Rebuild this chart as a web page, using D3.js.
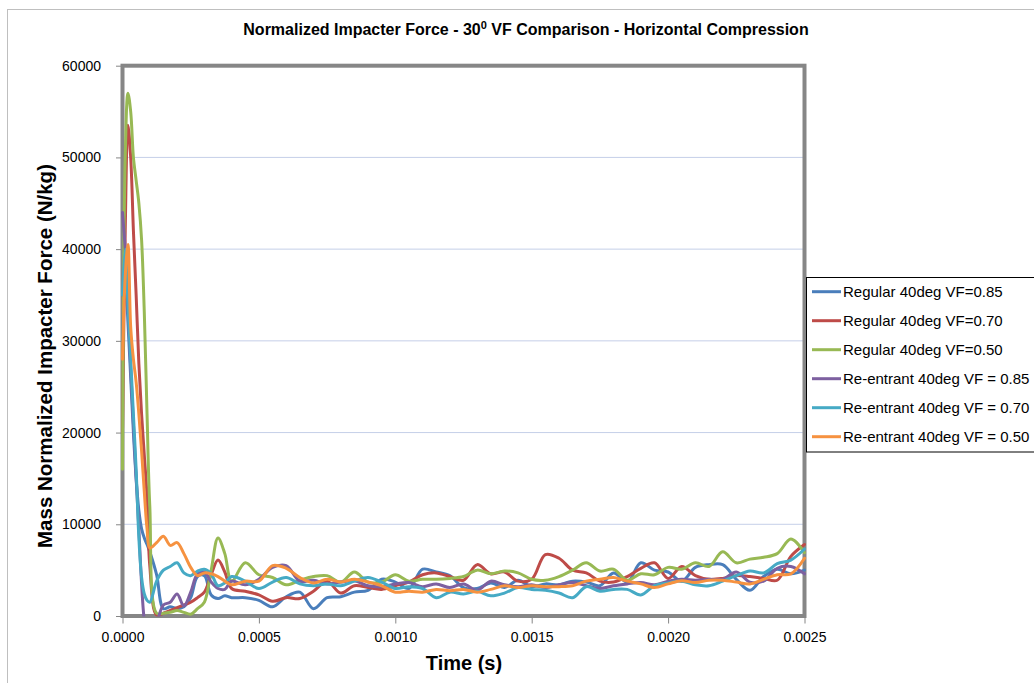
<!DOCTYPE html>
<html>
<head>
<meta charset="utf-8">
<script src="https://cdn.jsdelivr.net/npm/d3@7"></script>
<style>
  body { margin: 0; background: #fff; }
  text { font-family: "Liberation Sans", Arial, sans-serif; fill: #000; }
</style>
</head>
<body>
<svg id="chart" width="1034" height="683"></svg>
<script>
// Время (с): мелкий шаг в начале удара, крупнее дальше
const times = [
  0, 0.00001, 0.00002, 0.00003, 0.00004, 0.00005, 0.00006, 0.00007, 0.00008, 0.00009, 0.0001,
  0.000125, 0.00015, 0.000175, 0.0002, 0.000225, 0.00025, 0.000275, 0.0003, 0.000325, 0.00035, 0.000375, 0.0004,
  0.00045, 0.0005, 0.00055, 0.0006, 0.00065, 0.0007, 0.00075, 0.0008, 0.00085, 0.0009, 0.00095, 0.001,
  0.00105, 0.0011, 0.00115, 0.0012, 0.00125, 0.0013, 0.00135, 0.0014, 0.00145, 0.0015,
  0.00155, 0.0016, 0.00165, 0.0017, 0.00175, 0.0018, 0.00185, 0.0019, 0.00195, 0.002,
  0.00205, 0.0021, 0.00215, 0.0022, 0.00225, 0.0023, 0.00235, 0.0024, 0.00245, 0.0025
];

const regular085 = [
  30000, 37000, 32000, 26000, 20000, 15000, 11500, 9500, 8500, 7800, 7000,
  4500, 800, 1000, 800, 1000, 2000, 4300, 4400, 2300, 1900, 2200, 2000,
  2000, 1700, 1000, 2100, 2600, 800, 2000, 2100, 2600, 2800, 4000, 3700,
  3000, 5100, 4800, 4400, 3100, 3000, 3600, 3100, 3900, 3200,
  3500, 3400, 3800, 3700, 3300, 4700, 3700, 5800, 5000, 4800,
  3800, 5300, 5600, 5600, 4000, 2800, 4300, 5100, 4600, 5000
];

const regular070 = [
  20000, 42000, 53500, 50000, 42000, 35000, 27500, 22000, 17500, 13000, 5500,
  100, 300, 600, 900, 1200, 1500, 2000, 2600, 4500, 6100, 4800, 3000,
  2700, 2300, 1600, 2000, 1900, 2700, 3800, 2500, 3300, 3100, 2900, 3300,
  3700, 4500, 4700, 4300, 3900, 5600, 4600, 4800, 3800, 4000,
  6700, 6300, 5000, 4700, 3800, 3700, 4300, 5200, 5800, 4100,
  5400, 4400, 4000, 4100, 4400, 4300, 4100, 3900, 6500, 7800
];

const regular050 = [
  16000, 50000, 57000, 55000, 50000, 47500, 45000, 41000, 33000, 22000, 12000,
  300, 300, 400, 600, 400, 200, 800, 1500, 5000, 8500, 6800, 3800,
  5800, 4500, 4200, 3400, 3900, 4300, 4400, 3700, 4800, 3700, 3700, 4500,
  3800, 4000, 4000, 4100, 4300, 5000, 4600, 4900, 4700, 4000,
  3900, 4300, 5000, 5800, 4900, 5100, 3900, 4600, 4500, 5300,
  5100, 5800, 5400, 7000, 5800, 6200, 6400, 6800, 8400, 6900
];

const reentrant085 = [
  44000, 40000, 34000, 27000, 21000, 15000, 9500, 3500, -500, -2000, -2500,
  -800, 1200, 1500, 2400, 1100, 2600, 4600, 4800, 3700, 3000, 2900, 3800,
  3400, 4000, 5300, 5500, 3800, 3900, 3500, 3700, 3850, 3300, 3200, 3500,
  3650, 3200, 3500, 3100, 3500, 2800, 3800, 3400, 3200, 3400,
  3100, 3400, 3650, 3300, 3000, 3300, 3500, 3650, 3400, 3800,
  4000, 3900, 4000, 4000, 4800, 3700, 3800, 5200, 5400, 4600
];

const reentrant070 = [
  35000, 40000, 34000, 28000, 22000, 16000, 8500, 4200, 2400, 1700, 1500,
  3800, 5000, 5400, 5800, 4700, 4400, 4900, 5100, 4600, 3300, 3600, 4300,
  3800, 3000, 3700, 4200, 3500, 3300, 3500, 3300, 3800, 4200, 3700, 3000,
  3200, 3000, 2000, 2600, 2400, 2700, 2200, 2500, 3100, 2900,
  2800, 2500, 2000, 3200, 2700, 2900, 2900, 2300, 3300, 3600,
  3800, 3400, 3300, 3800, 4400, 4900, 4700, 5700, 6100, 7300
];

const reentrant050 = [
  28000, 37000, 40500, 31500, 28000, 25500, 22000, 18000, 13500, 9500, 7400,
  8000, 8700, 7700, 8000, 6800, 5300, 4400, 4700, 4600, 4300, 3800, 3400,
  3800, 3800, 5500, 5200, 4200, 3600, 4000, 3700, 4000, 3700, 3300, 2600,
  2700, 2600, 2900, 2750, 2900, 2600, 2900, 3300, 3100, 3300,
  3200, 3200, 3300, 3800, 4000, 4200, 3800, 3500, 3100, 3500,
  3850, 3650, 3900, 3900, 3700, 3500, 4000, 4500, 4600, 6300
];

const seriesNames = [
  "Regular 40deg VF=0.85",
  "Regular 40deg VF=0.70",
  "Regular 40deg VF=0.50",
  "Re-entrant 40deg VF = 0.85",
  "Re-entrant 40deg VF = 0.70",
  "Re-entrant 40deg VF = 0.50"
];
const seriesValues = [regular085, regular070, regular050, reentrant085, reentrant070, reentrant050];
const seriesColors = ["#4A7EBB", "#BE4B48", "#98B954", "#7D60A0", "#46AAC5", "#F69240"];

const xTicks = [0, 0.0005, 0.001, 0.0015, 0.002, 0.0025];
const yTicks = [0, 10000, 20000, 30000, 40000, 50000, 60000];

const svg = d3.select("#chart");

// внешняя рамка диаграммы (уходит за край картинки)
svg.append("rect")
    .attr("x", 7.5).attr("y", 9.5)
    .attr("width", 1100).attr("height", 720)
    .attr("fill", "#fff")
    .attr("stroke", "#bfbfbf");

const plotLeft = 122.5, plotRight = 804.5, plotTop = 65.7, plotBottom = 616;

const xScale = d3.scaleLinear().domain([0, 0.0025]).range([plotLeft, plotRight]);
const yScale = d3.scaleLinear().domain([0, 60000]).range([plotBottom, plotTop]);

// сетка
svg.append("g")
    .selectAll("line")
    .data(yTicks.filter(d => d > 0 && d < 60000))
    .enter()
    .append("line")
    .attr("x1", plotLeft).attr("x2", plotRight)
    .attr("y1", d => yScale(d)).attr("y2", d => yScale(d))
    .attr("stroke", "#c5cfe8")
    .attr("stroke-width", 1);

// оси
const yAxis = d3.axisLeft(yScale).tickValues(yTicks).tickFormat(d3.format("d"))
    .tickSize(5).tickPadding(15);
const gy = svg.append("g")
    .attr("transform", "translate(" + (plotLeft - 1.5) + ",0)")
    .call(yAxis);

const xAxis = d3.axisBottom(xScale).tickValues(xTicks).tickFormat(d3.format(".4f"))
    .tickSize(6).tickPadding(9);
const gx = svg.append("g")
    .attr("transform", "translate(0," + (plotBottom + 1.5) + ")")
    .call(xAxis);

[gx, gy].forEach(g => {
    g.select(".domain").remove();
    g.selectAll(".tick line").attr("stroke", "#868686");
    g.selectAll(".tick text").style("font-size", "14px").attr("fill", "#000");
});

// рамка области построения
svg.append("rect")
    .attr("x", plotLeft).attr("y", plotTop)
    .attr("width", plotRight - plotLeft).attr("height", plotBottom - plotTop)
    .attr("fill", "none")
    .attr("stroke", "#868686")
    .attr("stroke-width", 4);

// линии
svg.append("clipPath").attr("id", "plot-clip")
    .append("rect")
    .attr("x", plotLeft - 2).attr("y", plotTop - 2)
    .attr("width", plotRight - plotLeft + 4).attr("height", plotBottom - plotTop + 2.5);

const line = d3.line()
    .x(d => xScale(d[0]))
    .y(d => yScale(d[1]))
    .curve(d3.curveCatmullRom.alpha(0.5));

svg.append("g")
    .attr("clip-path", "url(#plot-clip)")
    .selectAll("path")
    .data(seriesValues)
    .enter()
    .append("path")
    .attr("d", vals => line(vals.map((v, i) => [times[i], v])))
    .attr("fill", "none")
    .attr("stroke", (d, i) => seriesColors[i])
    .attr("stroke-width", 3)
    .attr("stroke-linejoin", "round")
    .attr("stroke-linecap", "round");

// заголовок
const title = svg.append("text")
    .attr("x", 526).attr("y", 35)
    .attr("text-anchor", "middle")
    .style("font-size", "16px")
    .style("font-weight", "bold");
title.append("tspan").text("Normalized Impacter Force - 30");
title.append("tspan").attr("dy", -6).style("font-size", "11px").text("0");
title.append("tspan").attr("dy", 6).text(" VF Comparison - Horizontal Compression");

// подписи осей
svg.append("text")
    .attr("x", 464).attr("y", 670)
    .attr("text-anchor", "middle")
    .style("font-size", "20px")
    .style("font-weight", "bold")
    .text("Time (s)");

svg.append("text")
    .attr("transform", "translate(52,356) rotate(-90)")
    .attr("text-anchor", "middle")
    .style("font-size", "20.5px")
    .style("font-weight", "bold")
    .text("Mass Normalized Impacter Force (N/kg)");

// легенда
const legend = svg.append("g");
legend.append("rect")
    .attr("x", 806.5).attr("y", 277.5)
    .attr("width", 260).attr("height", 174.5)
    .attr("fill", "#fff")
    .attr("stroke", "#000")
    .attr("stroke-width", 1);

const items = legend.selectAll("g.item")
    .data(seriesNames)
    .enter()
    .append("g")
    .attr("class", "item")
    .attr("transform", (d, i) => "translate(0," + (291.7 + 29 * i) + ")");

items.append("line")
    .attr("x1", 812).attr("x2", 841)
    .attr("stroke", (d, i) => seriesColors[i])
    .attr("stroke-width", 3);

items.append("text")
    .attr("x", 843)
    .attr("dy", "0.35em")
    .style("font-size", "15px")
    .text(d => d);
</script>
</body>
</html>
